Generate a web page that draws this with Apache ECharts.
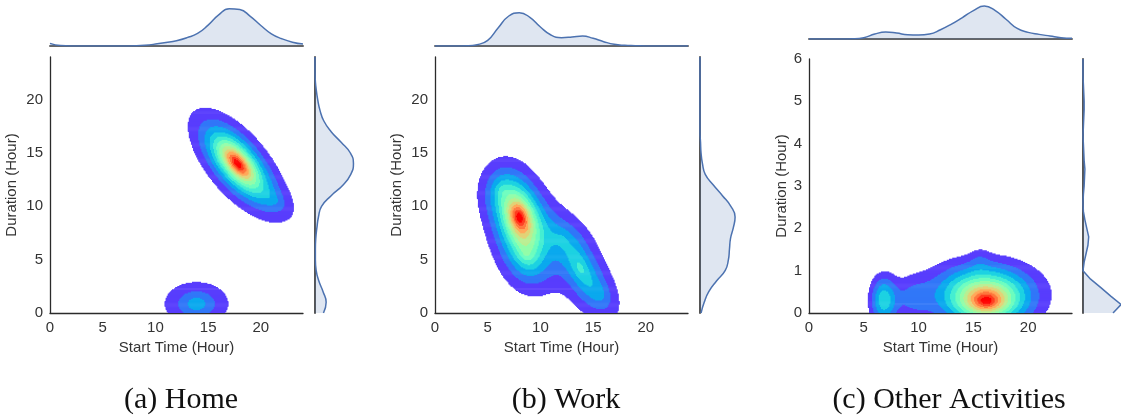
<!DOCTYPE html>
<html><head><meta charset="utf-8">
<script src="https://cdn.jsdelivr.net/npm/echarts@6/dist/echarts.min.js"></script>
<style>html,body{margin:0;padding:0;background:#fff}#c{width:1121px;height:415px}</style>
</head><body><div id="c"></div>
<script>
// ================= DATA =================
const captions = ['(a) Home', '(b) Work', '(c) Other Activities'];
const xName = 'Start Time (Hour)';
const yName = 'Duration (Hour)';
const startTicks = [0, 5, 10, 15, 20];
const durationTicksAB = [0, 5, 10, 15, 20];
const durationTicksC = [0, 1, 2, 3, 4, 5, 6];

// density peaks seen in the joint plots:
// [start hour, duration hour, spread along start, spread along duration, tilt (correlation), relative height, peak sharpness]
const homeBlobs = [
  [17.8, 14.0, 1.3, 1.45, -0.66, 1.0, 0.65],
  [21.2, 10.6, 0.9, 0.8, -0.5, 0.1, 0.65],
  [13.9, 0.85, 1.4, 0.95, 0.0, 0.27, 0.65]
];
const workBlobs = [
  [8.0, 9.0, 0.95, 1.45, -0.3, 0.85, 0.65],
  [8.7, 5.5, 1.1, 1.5, -0.2, 0.3, 0.65],
  [13.8, 4.2, 1.1, 1.7, -0.55, 0.3, 0.65],
  [15.6, 1.8, 0.9, 1.1, -0.4, 0.14, 0.65],
  [12.0, 7.0, 1.2, 1.1, -0.3, 0.13, 0.65],
  [6.3, 11.5, 0.9, 1.1, 0.0, 0.15, 0.65]
];
const otherBlobs = [
  [16.2, 0.28, 1.5, 0.25, 0.0, 0.75, 0.65],
  [15.8, 0.55, 3.1, 0.45, 0.0, 0.26, 1.0],
  [6.8, 0.3, 0.8, 0.38, 0.0, 0.3, 1.0],
  [9.4, 0.35, 1.3, 0.35, 0.0, 0.12, 1.0],
  [15.6, 1.25, 0.6, 0.2, 0.0, 0.05, 1.0]
];

// marginal curves (relative height, peak = 1)
const hourGrid = [0,1,2,3,4,5,6,7,8,9,10,11,12,13,14,15,16,17,18,19,20,21,22,23,24];
const homeStartMarg  = [0.07,0.01,0,0,0,0,0,0,0.005,0.02,0.05,0.09,0.14,0.22,0.33,0.55,0.82,0.98,0.96,0.78,0.54,0.32,0.19,0.1,0.05];
const homeDurMarg    = [0.22,0.29,0.21,0.1,0.03,0.01,0.01,0.02,0.05,0.09,0.17,0.42,0.73,0.93,1.0,0.92,0.68,0.42,0.23,0.13,0.07,0.03,0.005,0,0];
const workStartMarg  = [0,0,0,0.005,0.04,0.17,0.55,0.9,1.0,0.86,0.57,0.33,0.25,0.27,0.3,0.23,0.13,0.05,0.02,0.01,0,0,0,0,0];
const workDurMarg    = [0.03,0.12,0.25,0.47,0.72,0.81,0.84,0.87,0.95,1.0,0.88,0.64,0.38,0.15,0.07,0.03,0.015,0,0,0,0,0,0,0,0];
const otherStartMarg = [0,0,0,0,0.005,0.04,0.15,0.21,0.18,0.13,0.12,0.15,0.28,0.45,0.65,0.86,1.0,0.86,0.59,0.32,0.2,0.14,0.09,0.04,0.02];
const otherDurGrid   = ['0.0','0.2','0.4','0.6','0.8','1.0','1.2','1.4','1.6','1.8','2.0','2.2','2.4','2.6','2.8','3.0','3.2','3.4','3.6','3.8','4.0','4.2','4.4','4.6','4.8','5.0','5.2','5.4','5.6','5.8','6.0'];
const otherDurMarg   = [0.79,1.0,0.73,0.47,0.2,0.0,0.03,0.08,0.13,0.15,0.1,0.05,0.01,0,0.01,0.03,0.04,0.05,0.03,0.02,0.01,0,0.01,0.02,0.03,0.03,0.02,0.01,0,0,0];

// ================= LAYOUT / STYLE =================
const panels = [
  {blobs: homeBlobs, yMax: 24, yTicks: durationTicksAB, yStep: 0.1, main: {left: 50, top: 57, width: 253, height: 256},
   top: {left: 50, top: 8, width: 253, height: 38}, topMax: 1.0, topData: homeStartMarg,
   right: {left: 315, top: 57, width: 40, height: 256}, rightMax: 1.04, rightCats: hourGrid.map(String), rightData: homeDurMarg, rightSmooth: true,
   yGap: 31, cap: [181, 400]},
  {blobs: workBlobs, yMax: 24, yTicks: durationTicksAB, yStep: 0.1, main: {left: 435, top: 57, width: 253, height: 256},
   top: {left: 435, top: 8, width: 253, height: 38}, topMax: 1.14, topData: workStartMarg,
   right: {left: 700, top: 57, width: 40, height: 256}, rightMax: 1.14, rightCats: hourGrid.map(String), rightData: workDurMarg, rightSmooth: true,
   yGap: 31, cap: [566, 400]},
  {blobs: otherBlobs, yMax: 6, yTicks: durationTicksC, yStep: 0.025, main: {left: 809, top: 59, width: 263, height: 254},
   top: {left: 809, top: 1, width: 263, height: 38}, topMax: 1.15, topData: otherStartMarg,
   right: {left: 1083, top: 59, width: 38, height: 254}, rightMax: 1.0, rightCats: otherDurGrid, rightData: otherDurMarg, rightSmooth: false,
   yGap: 20, cap: [949, 400]}
];
const NB = 14;
function rainbow(t) {
  const r = Math.min(1, Math.abs(2 * t - 0.5)), g = Math.sin(Math.PI * t), b = Math.cos(Math.PI * t / 2);
  return 'rgb(' + Math.round(r * 255) + ',' + Math.round(g * 255) + ',' + Math.round(b * 255) + ')';
}
const bandColors = [];
for (let k = 0; k < NB; k++) bandColors.push(rainbow(k / (NB - 1)));

function dens(blobs, x, y) {
  let s = 0;
  for (const [mx, my, sx, sy, r, a, p] of blobs) {
    const dx = (x - mx) / sx, dy = (y - my) / sy;
    const q = (dx * dx - 2 * r * dx * dy + dy * dy) / (1 - r * r);
    s += a * Math.exp(-0.5 * Math.pow(q, p));
  }
  return s;
}
function bandRuns(blobs, yMax, yStep) {
  const xStep = 0.1, nx = Math.round(24 / xStep), ny = Math.round(yMax / yStep);
  const grid = []; let mx = 0;
  for (let j = 0; j < ny; j++) {
    const row = [];
    for (let i = 0; i < nx; i++) { const d = dens(blobs, (i + 0.5) * xStep, (j + 0.5) * yStep); row.push(d); if (d > mx) mx = d; }
    grid.push(row);
  }
  const runs = [];
  for (let j = 0; j < ny; j++) {
    let cur = -1, start = 0;
    for (let i = 0; i <= nx; i++) {
      const k = i < nx ? Math.min(NB - 1, Math.floor(grid[j][i] / mx * NB)) : -1;
      if (k !== cur) {
        if (cur > 0) runs.push([start * xStep, i * xStep, (j + 0.5) * yStep, cur, yStep]);
        cur = k; start = i;
      }
    }
  }
  runs.sort((a, b) => a[3] - b[3]);
  return runs;
}

const axisCol = '#2b2b2b', textCol = '#333';
const font = 'Liberation Sans, Arial, sans-serif';
const grid = [], xAxis = [], yAxis = [], series = [], graphic = [];
panels.forEach((p, i) => {
  const g0 = grid.length;
  grid.push(Object.assign({containLabel: false}, p.main));
  grid.push(Object.assign({containLabel: false}, p.top));
  grid.push(Object.assign({containLabel: false}, p.right));
  xAxis.push({gridIndex: g0, type: 'value', min: 0, max: 24, interval: 5,
    axisLine: {show: true, lineStyle: {color: axisCol, width: 1.3}}, axisTick: {show: false}, splitLine: {show: false},
    axisLabel: {fontSize: 15, color: textCol, fontFamily: font, margin: 7, formatter: v => startTicks.includes(v) ? String(v) : ''},
    name: xName, nameLocation: 'middle', nameGap: 25, nameTextStyle: {fontSize: 15, color: textCol, fontFamily: font}});
  const yi = p.yTicks[1] - p.yTicks[0];
  yAxis.push({gridIndex: g0, type: 'value', min: 0, max: p.yMax, interval: yi,
    axisLine: {show: true, lineStyle: {color: axisCol, width: 1.3}}, axisTick: {show: false}, splitLine: {show: false},
    axisLabel: {fontSize: 15, color: textCol, fontFamily: font, margin: 7, formatter: v => p.yTicks.includes(v) ? String(v) : ''},
    name: yName, nameLocation: 'middle', nameGap: p.yGap, nameTextStyle: {fontSize: 15, color: textCol, fontFamily: font}});
  xAxis.push({gridIndex: g0 + 1, type: 'value', min: 0, max: 24, axisLine: {show: true, onZero: false, lineStyle: {color: '#666', width: 2}},
    axisTick: {show: false}, axisLabel: {show: false}, splitLine: {show: false}});
  yAxis.push({gridIndex: g0 + 1, type: 'value', min: 0, max: p.topMax, show: false});
  xAxis.push({gridIndex: g0 + 2, type: 'value', min: 0, max: p.rightMax, show: false});
  yAxis.push({gridIndex: g0 + 2, type: 'category', data: p.rightCats, boundaryGap: false,
    axisLine: {show: true, lineStyle: {color: '#555', width: 2}}, axisTick: {show: false}, axisLabel: {show: false}, splitLine: {show: false}});
  series.push({type: 'custom', xAxisIndex: g0, yAxisIndex: g0, silent: true, animation: false,
    data: bandRuns(p.blobs, p.yMax, p.yStep), encode: {x: [0, 1], y: 2},
    renderItem: (params, api) => {
      const a = api.coord([api.value(0), api.value(2) + api.value(4) / 2]);
      const b = api.coord([api.value(1), api.value(2) - api.value(4) / 2]);
      const cs = params.coordSys;
      const shape = echarts.graphic.clipRectByRect({x: a[0] - 0.3, y: a[1] - 0.3, width: b[0] - a[0] + 0.6, height: b[1] - a[1] + 0.6},
        {x: cs.x, y: cs.y, width: cs.width, height: cs.height});
      return shape && {type: 'rect', shape: shape, style: {fill: bandColors[api.value(3)]}};
    }});
  series.push({type: 'line', xAxisIndex: g0 + 1, yAxisIndex: g0 + 1, smooth: true, symbol: 'none', animation: false, silent: true,
    data: hourGrid.map((h, k) => [h, p.topData[k]]),
    lineStyle: {color: '#4c72b0', width: 1.5}, areaStyle: {color: 'rgba(76,114,176,0.26)'}});
  series.push({type: 'line', xAxisIndex: g0 + 2, yAxisIndex: g0 + 2, smooth: p.rightSmooth, symbol: 'none', animation: false, silent: true, clip: false,
    data: p.rightData.slice(),
    lineStyle: {color: '#4c72b0', width: 1.5}, areaStyle: {color: 'rgba(76,114,176,0.26)'}});
  graphic.push({type: 'text', x: p.cap[0], y: p.cap[1], style: {text: captions[i], fill: '#111', font: '30px "Liberation Serif", serif', textAlign: 'center', textVerticalAlign: 'middle'}});
});

const chart = echarts.init(document.getElementById('c'), null, {renderer: 'canvas'});
chart.setOption({backgroundColor: '#fff', animation: false, grid, xAxis, yAxis, series, graphic});
</script></body></html>
